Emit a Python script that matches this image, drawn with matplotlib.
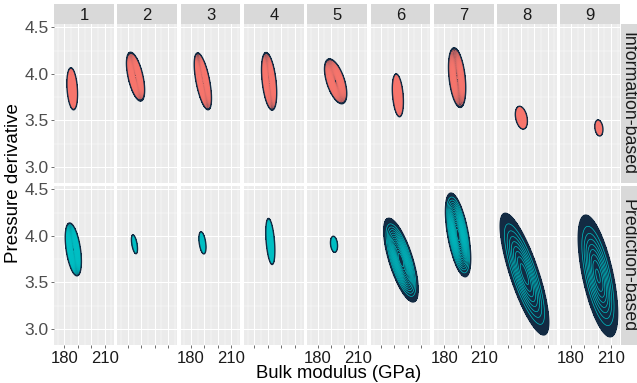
"""Posterior density of bulk modulus vs pressure derivative, faceted by sample and method."""

import numpy as np
import matplotlib
matplotlib.use("Agg")
import matplotlib.pyplot as plt

plt.rcParams['font.family'] = ['Liberation Sans', 'DejaVu Sans']

panels = ['1', '2', '3', '4', '5', '6', '7', '8', '9']
row_names = ['Information-based', 'Prediction-based']
row_colors = ['#F8766D', '#00BFC4']

# centre, spread and correlation of each density cloud
info_k0 = [185.8, 185.8, 188.8, 191.0, 193.4, 192.6, 189.6, 190.3, 200.9]
info_k1 = [3.84, 3.97, 3.92, 3.92, 3.92, 3.77, 3.96, 3.53, 3.42]
info_sd_k0 = [1.86, 3.16, 3.00, 2.64, 3.87, 1.93, 3.00, 2.10, 1.41]
info_sd_k1 = [0.105, 0.122, 0.142, 0.144, 0.112, 0.107, 0.149, 0.057, 0.040]
info_rho = [-0.25, -0.55, -0.60, -0.40, -0.55, -0.30, -0.35, -0.30, -0.20]

pred_k0 = [186.6, 185.0, 188.5, 191.9, 192.2, 194.9, 190.3, 192.6, 200.2]
pred_k1 = [3.855, 3.91, 3.925, 3.94, 3.91, 3.74, 4.01, 3.59, 3.57]
pred_sd_k0 = [2.81, 1.05, 1.23, 1.58, 1.23, 5.98, 4.40, 8.44, 6.85]
pred_sd_k1 = [0.132, 0.047, 0.055, 0.115, 0.040, 0.209, 0.209, 0.304, 0.304]
pred_rho = [-0.45, -0.50, -0.40, -0.40, -0.20, -0.70, -0.56, -0.79, -0.62]

x_breaks = [180, 190, 200, 210]
x_labels = ['180', '', '', '210']
y_breaks = [3.0, 3.5, 4.0, 4.5]

rows = [
    (info_k0, info_k1, info_sd_k0, info_sd_k1, info_rho),
    (pred_k0, pred_k1, pred_sd_k0, pred_sd_k1, pred_rho),
]

W, H = 637, 383
fig = plt.figure(figsize=(W / 100, H / 100), dpi=100)


def box(x, y, w, h):
    # pixel box (top-left origin) -> figure fraction
    return [x / W, 1 - (y + h) / H, w / W, h / H]


def density(X, Y, mx, my, sx, sy, rho):
    zx = (X - mx) / sx
    zy = (Y - my) / sy
    q = (zx ** 2 - 2 * rho * zx * zy + zy ** 2) / (1 - rho ** 2)
    return np.exp(-q / 2) / (2 * np.pi * sx * sy * np.sqrt(1 - rho ** 2))


xlim = (172.2, 216.8)
ylim = (2.835, 4.535)
gx = np.linspace(xlim[0], xlim[1], 400)
gy = np.linspace(ylim[0], ylim[1], 400)
GX, GY = np.meshgrid(gx, gy)
step = 0.0105  # contour spacing shared by all panels
navy = '#132B43'

left0, pw, gap = 54, 59.8, 3.5
tops = [24, 186]
ph = 158.5

for r, (mk0, mk1, sk0, sk1, rh) in enumerate(rows):
    for c in range(9):
        ax = fig.add_axes(box(left0 + c * (pw + gap), tops[r], pw, ph))
        ax.set_facecolor('#EBEBEB')
        for s in ax.spines.values():
            s.set_visible(False)
        ax.set_xlim(xlim)
        ax.set_ylim(ylim)
        ax.set_xticks(x_breaks)
        ax.set_xticks([175, 185, 195, 205, 215], minor=True)
        ax.set_yticks(y_breaks)
        ax.set_yticks([3.25, 3.75, 4.25], minor=True)
        ax.grid(which='major', color='white', linewidth=0.75)
        ax.grid(which='minor', color='white', linewidth=0.35)
        ax.set_axisbelow(True)
        ax.tick_params(which='minor', length=0)
        ax.tick_params(which='major', length=2.5, width=0.5, color='#333333',
                       labelsize=12.5, labelcolor='#4D4D4D', pad=1.5)
        ax.tick_params(axis='x', labelsize=12, labelcolor='#1A1A1A', pad=2.5)

        Z = density(GX, GY, mk0[c], mk1[c], sk0[c], sk1[c], rh[c])
        peak = Z.max()
        base = 0.1 * peak
        ax.contourf(GX, GY, Z, levels=[base, peak * 1.01], colors=[navy])
        lv = np.arange(step, peak, step)
        lv = lv[lv > base * 1.3]
        if len(lv):
            ax.contour(GX, GY, Z, levels=lv, colors=row_colors[r], linewidths=0.5)
        ax.contour(GX, GY, Z, levels=[base], colors=navy, linewidths=1.0)

        if c == 0:
            ax.set_yticklabels(['3.0', '3.5', '4.0', '4.5'])
        else:
            ax.tick_params(axis='y', left=False, labelleft=False)
        if r == 1:
            if c % 2 == 0:
                ax.set_xticklabels(x_labels)
            else:
                ax.set_xticklabels([''] * 4)
        else:
            ax.tick_params(axis='x', bottom=False, labelbottom=False)

        if r == 0:
            sax = fig.add_axes(box(left0 + c * (pw + gap), 4, pw, 20))
            sax.set_facecolor('#D9D9D9')
            sax.set_xticks([])
            sax.set_yticks([])
            for s in sax.spines.values():
                s.set_visible(False)
            sax.text(0.5, 0.45, panels[c], ha='center', va='center',
                     fontsize=12, color='#1A1A1A', transform=sax.transAxes)

    rax = fig.add_axes(box(620.5, tops[r], 16.5, ph))
    rax.set_facecolor('#D9D9D9')
    rax.set_xticks([])
    rax.set_yticks([])
    for s in rax.spines.values():
        s.set_visible(False)
    rax.text(0.45, 0.5, row_names[r], ha='center', va='center', rotation=-90,
             fontsize=12.8, color='#1A1A1A', transform=rax.transAxes)

fig.text(338.5 / W, 1 - 378 / H, 'Bulk modulus (GPa)', ha='center', va='baseline',
         fontsize=13.3, color='black')
fig.text(14 / W, 1 - 183 / H, 'Pressure derivative', ha='center', va='center',
         rotation=90, fontsize=13.5, color='black')

fig.savefig('out.png', dpi=100)
